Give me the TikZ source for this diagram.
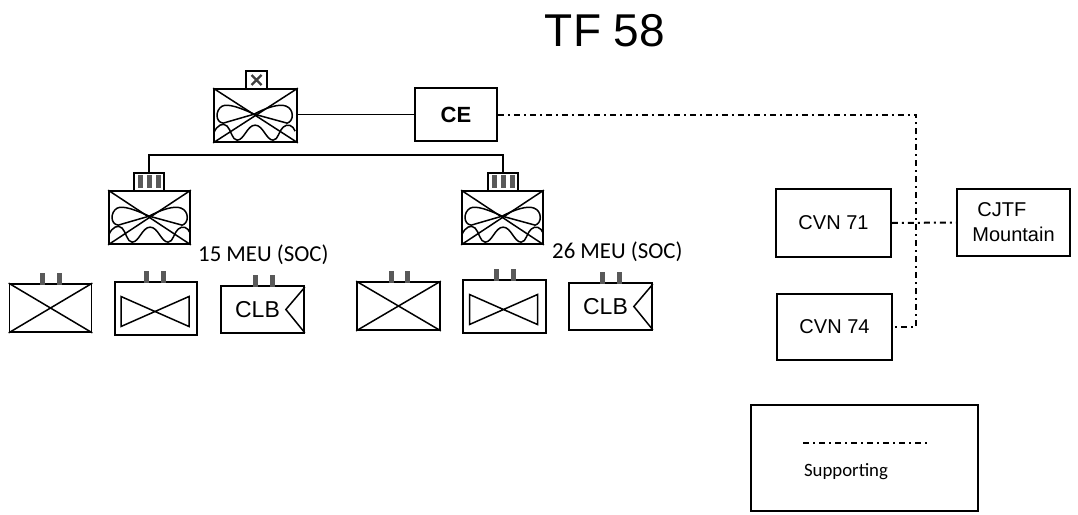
\documentclass[tikz,border=0pt]{standalone}
\usepackage{fontspec}
\setmainfont{Liberation Sans}
\newfontfamily\labelfont{Carlito}
\usetikzlibrary{positioning}

% unit box, with its size as (width, height)
\tikzset{
    unit/.style n args={2}{draw=black, line width=1.7pt, fill=white, inner sep=0pt, minimum width=#1pt, minimum height=#2pt},
    boxtext/.style={font=\fontsize{20}{25}\selectfont},
    clbtext/.style={font=\fontsize{23}{25}\selectfont},
    meutext/.style={font=\labelfont\fontsize{22.8}{25}\selectfont, inner sep=0pt},
    support/.style={line width=2pt, dash pattern=on 6pt off 4pt on 2pt off 4pt},
    link/.style={line width=1.8pt},
    symline/.style={line width=1.5pt},
    bar/.style={fill=black!65, draw=black!65, line width=0.4pt}
}

% crossed corners of a unit
\newcommand{\crossunit}[1]{
    \draw[symline] (#1.north west) -- (#1.south east);
    \draw[symline] (#1.south west) -- (#1.north east);
}
% lobes and wave of a headquarters, from its top left corner
\newcommand{\hqsym}[1]{
    \crossunit{#1}
    \begin{scope}[shift={(#1.north west)}, symline]
        \draw (41,26) .. controls (28,20) and (15,15) .. (9,18) .. controls (2,22) and (2,34) .. (10,35) -- cycle;
        \draw (41,26) .. controls (52,20) and (66,15) .. (73,18) .. controls (81,21) and (81,33) .. (74,35) -- cycle;
        \draw (1,44) .. controls (4,37) and (10,34) .. (14,38) .. controls (18,42) and (19,52) .. (24,52)
            .. controls (31,52) and (34,37) .. (42,37) .. controls (50,37) and (53,52) .. (60,52)
            .. controls (65,52) and (66,42) .. (70,39) .. controls (74,35) and (80,37) .. (82,43);
    \end{scope}
}
% two bars standing on a unit
\newcommand{\twobars}[3]{
    \fill[bar] (#1-2,#3) rectangle (#1+2,#3-11);
    \fill[bar] (#2-2,#3) rectangle (#2+2,#3-11);
}

\begin{document}
\begin{tikzpicture}[x=1pt, y=-1pt]
    \useasboundingbox (0,0) rectangle (1078,514);
    \fill[white] (0,0) rectangle (1078,514);

    % Title
    \node[font=\fontsize{46}{50}\selectfont] (title) at (605,31) {TF 58};

    % Force headquarters and CE
    \node[unit={83}{53}] (hqtop) at (255.5,115.5) {};
    \node[unit={21}{18}] (flagtop) at (256.5,80) {};
    \node[unit={82}{53}, font=\bfseries\fontsize{22}{24}\selectfont] (ce) at (456,114.5) {CE};
    \hqsym{hqtop}
    \draw[line width=2.4pt, black!75] (flagtop.center) ++(-5,-5) -- ++(10,10) ++(-10,0) -- ++(10,-10);
    \draw[link] (hqtop.east |- ce.west) -- (ce.west);

    % MEU headquarters
    \node[unit={81}{53}] (hqleft) at (149.5,217.5) {};
    \node[unit={81}{53}] (hqright) at (502.5,217.5) {};
    \node[unit={30}{18}] (flagleft) at (149,182) {};
    \node[unit={30}{18}] (flagright) at (503,182) {};
    \hqsym{hqleft}
    \hqsym{hqright}
    \foreach \flag in {flagleft, flagright} {
        \foreach \dx in {-9,0,9} {
            \fill[bar] ([xshift=\dx pt-2pt, yshift=-5pt]\flag.center) rectangle ([xshift=\dx pt+2pt, yshift=7pt]\flag.center);
        }
    }
    \draw[link] (flagleft.north) -- ++(0,-17) -| (flagright.north);

    \node[meutext, anchor=west] (meuleft) at (198,255) {15 MEU (SOC)};
    \node[meutext, anchor=west] (meuright) at (552,252) {26 MEU (SOC)};

    % 15 MEU units
    \node[unit={82}{48}] (inf1) at (50.5,308) {};
    \node[unit={82}{53}] (bow1) at (156,308.5) {};
    \node[unit={83}{47}, clbtext] (clb1) at (262.5,309.5) {\hspace{-10pt}CLB};
    \crossunit{inf1}
    \twobars{42}{59}{284}
    \twobars{146}{163}{282}
    \twobars{255}{272}{286}

    % 26 MEU units
    \node[unit={83}{48}] (inf2) at (398.5,306) {};
    \node[unit={83}{53}] (bow2) at (504.5,306.5) {};
    \node[unit={83}{47}, clbtext] (clb2) at (610.5,306.5) {\hspace{-10pt}CLB};
    \crossunit{inf2}
    \twobars{391}{407}{282}
    \twobars{496}{513}{280}
    \twobars{602}{619}{283}

    % Inner bow ties and CLB chevrons
    \foreach \unitname in {bow1, bow2} {
        \draw[symline] ([shift={(-35,-12)}]\unitname.center) -- ([shift={(33,18)}]\unitname.center)
            -- ([shift={(33,-12)}]\unitname.center) -- ([shift={(-35,18)}]\unitname.center) -- cycle;
    }
    \foreach \unitname in {clb1, clb2} {
        \draw[symline] ([yshift=-2pt]\unitname.north east) -- ([xshift=-19pt]\unitname.east) -- ([yshift=1pt]\unitname.south east);
    }

    % Carriers and CJTF
    \node[unit={115}{68}, boxtext] (cvn71) at (833.5,223) {CVN 71};
    \node[unit={115}{66}, boxtext] (cvn74) at (834.5,327) {CVN 74};
    \node[unit={113}{67}, boxtext, align=left] (cjtf) at (1013.5,222.5) {\hspace{5pt}CJTF\\Mountain};

    % Supporting links
    \coordinate (bend) at (916,114.5);
    \draw[support] (ce.east) -- (bend) -- (bend |- cvn74.east) -- (cvn74.east);
    \draw[support] (cvn71.east) -- (cjtf.west);

    % Legend
    \node[unit={227}{106}] (legend) at (864.5,458) {};
    \coordinate (keya) at (803,443);
    \coordinate (keyb) at (928,443);
    \draw[support, line width=1.4pt] (keya) -- (keyb);
    \node[font=\labelfont\fontsize{18.8}{22}\selectfont] (keytext) at (846,472) {Supporting};
\end{tikzpicture}
\end{document}
